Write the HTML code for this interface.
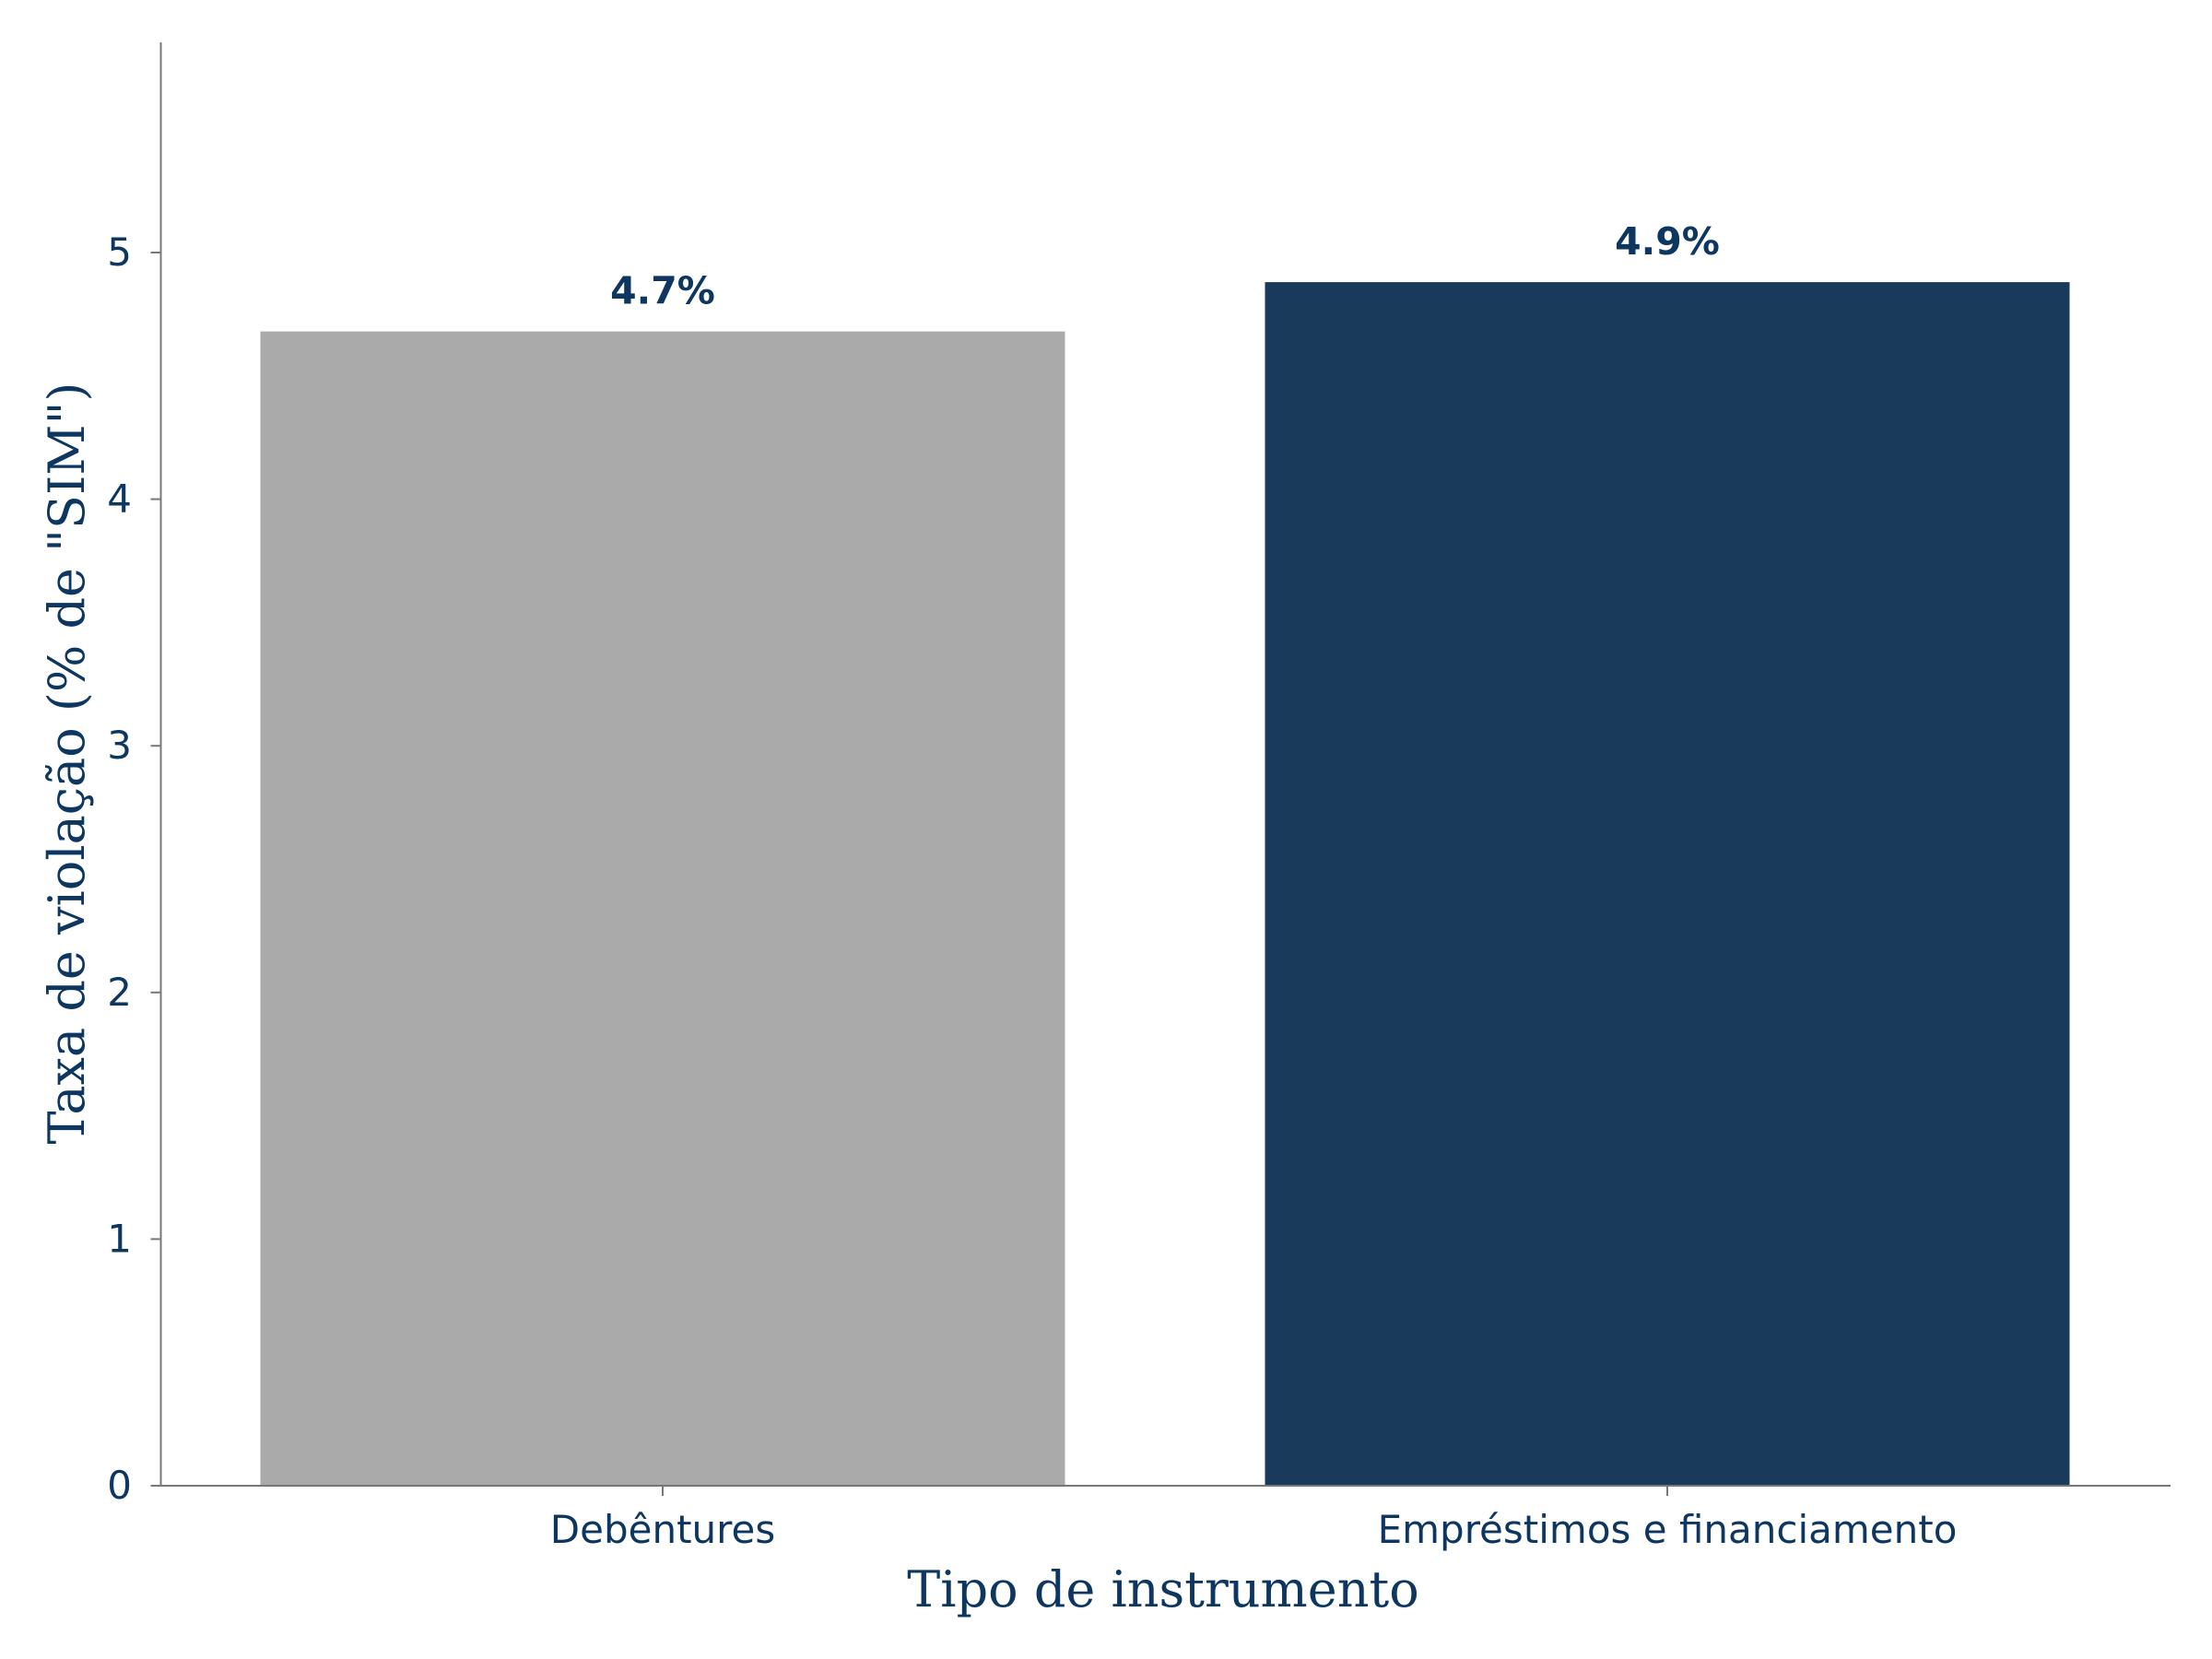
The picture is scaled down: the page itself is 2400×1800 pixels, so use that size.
<!DOCTYPE html>
<html><head><meta charset="utf-8"><style>
html,body{margin:0;padding:0;background:#fff;}
svg{display:block;}
</style></head><body>
<svg id="chart" width="2400" height="1800" viewBox="0 0 2400 1800" xmlns="http://www.w3.org/2000/svg">
<rect width="2400" height="1800" fill="#fff"/>
<g id="plot"></g>
<line x1="174.5" y1="46" x2="174.5" y2="1612" stroke="#777" stroke-width="2"/>
<line x1="174.5" y1="1612" x2="2355" y2="1612" stroke="#777" stroke-width="2"/>
<text x="1262" y="1743" text-anchor="middle" font-family="'DejaVu Serif', 'Liberation Serif', serif" font-size="54" fill="#0d3660">Tipo de instrumento</text>
<text transform="translate(91,828) rotate(-90)" text-anchor="middle" font-family="'DejaVu Serif', 'Liberation Serif', serif" font-size="54" fill="#0d3660">Taxa de violação (% de "SIM")</text>
</svg>
<script>
const categories = ["Debêntures", "Empréstimos e financiamento"];
const values = [4.68, 4.88];
const valueLabels = ["4.7%", "4.9%"];
const yTicks = [0, 1, 2, 3, 4, 5];
const barColors = ["#aaaaaa", "#1a3a5c"];

const NS = "http://www.w3.org/2000/svg";
const g = document.getElementById("plot");
const y0 = 1612, yPerUnit = 267.6;
function yScale(v){ return y0 - v * yPerUnit; }
function xCenter(i){ return 719 + i * 1090; }
const barW = 873;

function mk(tag, attrs){ const e = document.createElementNS(NS, tag); for (const k in attrs) e.setAttribute(k, attrs[k]); return e; }

yTicks.forEach(t => {
  const y = yScale(t);
  const l = mk("line", {x1:163.5, x2:174.5, y1:y, y2:y, stroke:"#777", "stroke-width":2});
  
  
  g.appendChild(l);
  const tx = mk("text", {x:143, y:y+14, "text-anchor":"end", "font-family":"'DejaVu Sans', 'Liberation Sans', sans-serif", "font-size":42, fill:"#0d3660"});
  tx.textContent = t;
  
  
  g.appendChild(tx);
});

categories.forEach((c, i) => {
  const cx = xCenter(i);
  const top = yScale(values[i]);
  const r = mk("rect", {x:cx - barW/2, y:top, width:barW, height:y0 - top, fill:barColors[i]});
  
  
  g.appendChild(r);
  const vl = mk("text", {x:cx, y:top - 30, "text-anchor":"middle", "font-family":"'DejaVu Sans', 'Liberation Sans', sans-serif", "font-size":41, "font-weight":"bold", fill:"#0d3660"});
  vl.textContent = valueLabels[i];
  
  
  g.appendChild(vl);
  const tk = mk("line", {x1:cx, x2:cx, y1:1612, y2:1623, stroke:"#777", "stroke-width":2});
  
  
  g.appendChild(tk);
  const xl = mk("text", {x:cx, y:1674, "text-anchor":"middle", "font-family":"'DejaVu Sans', 'Liberation Sans', sans-serif", "font-size":42, fill:"#0d3660"});
  xl.textContent = c;
  
  
  g.appendChild(xl);
});
</script>
</body></html>
